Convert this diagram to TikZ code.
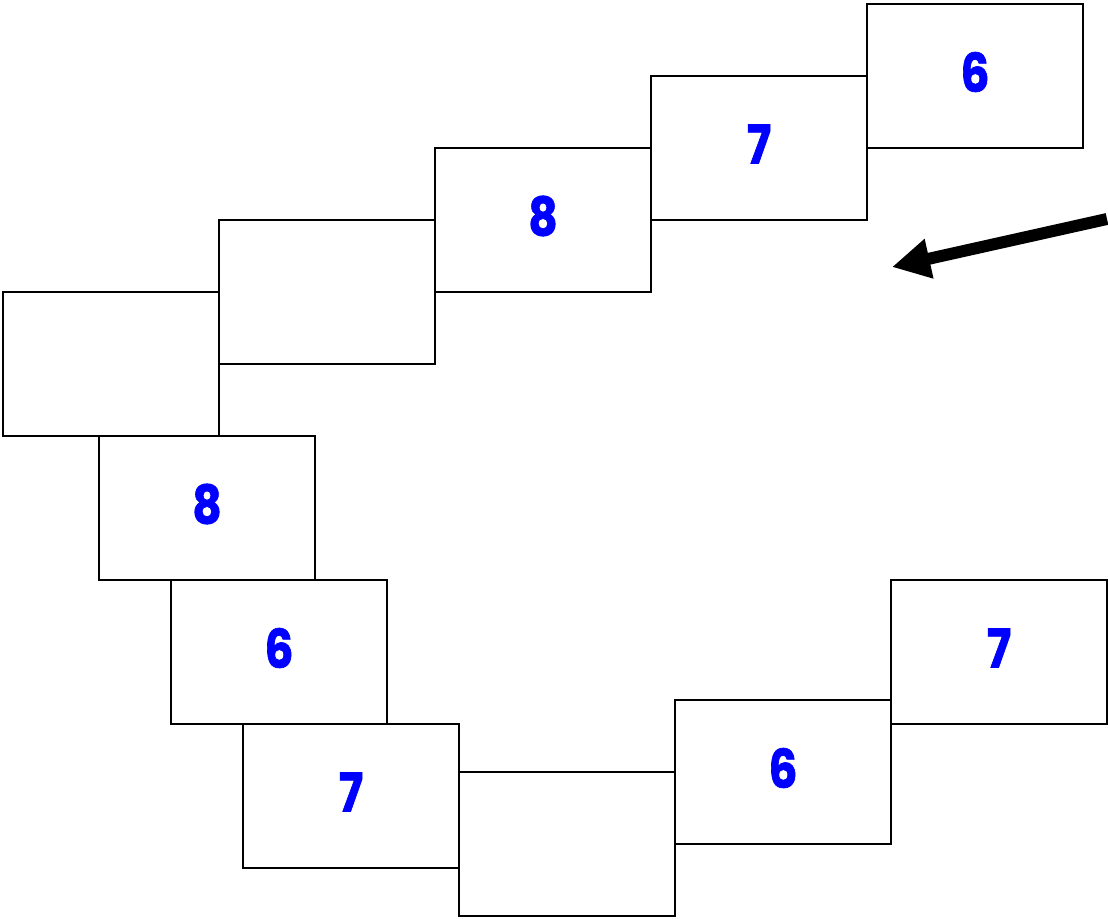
\documentclass[tikz,border=0pt]{standalone}
\usepackage{fontspec}
\newfontfamily\digitfont{Poppins}[BoldFeatures={FakeStretch=0.85,FakeBold=1.2}]
\usetikzlibrary{calc,arrows.meta,positioning}
\tikzset{cellnode/.style={draw=black,line width=1.4pt,minimum width=5.4cm,minimum height=3.6cm,inner sep=0pt,shape=rectangle},
numnode/.style={text=blue,inner sep=0pt,font=\digitfont\bfseries\fontsize{38}{38}\selectfont}}

\begin{document}
\begin{tikzpicture}[x=0.025cm,y=-0.025cm]

\useasboundingbox (0,0) rectangle (1108,918);

% Cells (centres, in pixels of the sketch)
\foreach \n/\x/\y in {1/975/76, 2/759/148, 3/543/220, 4/327/292, 5/111/364, 6/207/508, 7/279/652, 8/351/796, 9/567/844, 10/783/772, 11/999/652}
  \node[cellnode] (c\n) at (\x,\y) {};

% Numbers
\foreach \n/\d in {1/6, 2/7, 3/8, 6/8, 7/6, 8/7, 10/6, 11/7}
  \node[numnode] (d\n) at ($(c\n) + (0,-4)$) {\d};

% Arrow
\coordinate (arrTail) at (1107,219);
\coordinate (arrTip) at (892,267);
\draw[line width=8.5pt,-{Triangle[length=0.95cm,width=0.95cm]}] (arrTail) -- (arrTip);

\end{tikzpicture}
\end{document}
